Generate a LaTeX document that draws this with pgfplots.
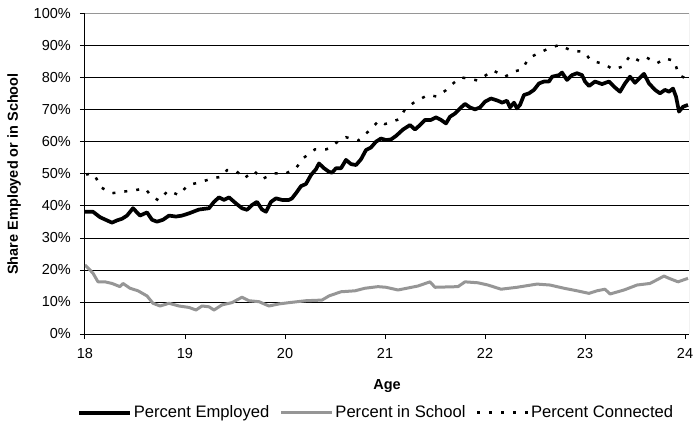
\documentclass[border=0pt]{standalone}
\usepackage{pgfplots}
\pgfplotsset{compat=1.18}
\usepackage{fontspec}
\setmainfont{Liberation Sans}
\definecolor{schoolgray}{RGB}{150,150,150}
\begin{document}
\begin{tikzpicture}
\begin{axis}[
  name=ax, at={(0,0)}, anchor=south west,
  scale only axis, width=604bp, height=320bp,
  xmin=18, xmax=24.04, ymin=0, ymax=100,
  axis lines=left, axis line style={-, black, line width=1bp},
  xtick={18,19,...,24}, ytick={0,10,...,100},
  /pgf/number format/assume math mode=true,
  yticklabel={\pgfmathprintnumber{\tick}\%},
  tick align=outside, major tick length=5bp,
  tick style={black, line width=1bp},
  tick label style={font=\fontsize{14.5bp}{16bp}\selectfont},
  yticklabel style={anchor=east, inner sep=0pt, xshift=-9bp},
  xticklabel style={anchor=north, inner sep=0pt, yshift=-9bp},
  ymajorgrids, major grid style={black, line width=1bp},
  xlabel={\textbf{Age}}, ylabel={\textbf{Share Employed or in School}},
  label style={font=\fontsize{14.5bp}{16bp}\selectfont},
  xlabel style={at={(axis description cs:0.5,-0.163)}, anchor=center},
  ylabel style={at={(axis description cs:-0.1175,0.5)}, anchor=center, rotate=0},
  legend style={draw=none, fill=none, at={(0.482,-0.246)}, anchor=center,
    legend columns=-1, font=\fontsize{16.6bp}{18bp}\selectfont,
    /tikz/every even column/.append style={column sep=9bp},
    inner sep=0pt, nodes={inner sep=1.5bp}},
  legend image code/.code={\draw[#1] (0bp,0bp) -- (51bp,0bp);},
]
\addplot[black, line width=3.7bp, line join=round] coordinates {
(18.00,38.2)(18.08,38.2)(18.15,36.5)(18.22,35.5)(18.27,34.8)(18.32,35.5)(18.37,36)(18.42,37)(18.48,39.3)(18.55,37)(18.62,38)(18.67,35.7)(18.72,35.1)(18.78,35.7)(18.84,37)(18.91,36.7)(18.97,37)(19.04,37.7)(19.14,38.9)(19.24,39.3)(19.29,41.3)(19.34,42.7)(19.39,41.9)(19.44,42.7)(19.51,40.8)(19.57,39.3)(19.62,38.8)(19.67,40.3)(19.72,41.3)(19.77,38.9)(19.81,38.2)(19.86,41.3)(19.91,42.4)(19.97,41.9)(20.04,41.9)(20.07,42.4)(20.11,44)(20.16,46.2)(20.21,46.9)(20.26,49.7)(20.31,51.5)(20.34,53.3)(20.39,51.8)(20.44,50.7)(20.47,50.4)(20.51,51.8)(20.56,51.8)(20.61,54.4)(20.66,53.1)(20.71,52.8)(20.76,54.6)(20.81,57.5)(20.86,58.3)(20.91,60.1)(20.96,61.1)(21.01,60.6)(21.06,60.8)(21.11,61.9)(21.18,63.9)(21.25,65.3)(21.30,63.9)(21.35,65.3)(21.40,66.9)(21.46,66.9)(21.51,67.7)(21.56,66.9)(21.61,65.8)(21.65,67.9)(21.70,68.9)(21.75,70.5)(21.80,71.9)(21.85,70.8)(21.90,70.2)(21.95,70.8)(22.00,72.6)(22.06,73.6)(22.13,72.9)(22.17,72.3)(22.22,72.9)(22.25,70.8)(22.29,72.3)(22.32,70.5)(22.35,71.6)(22.39,74.7)(22.44,75.2)(22.49,76.3)(22.54,78.3)(22.59,78.9)(22.64,78.9)(22.67,80.4)(22.74,80.9)(22.77,81.7)(22.82,79.4)(22.87,80.9)(22.92,81.5)(22.97,80.9)(23.00,78.9)(23.04,77.5)(23.10,78.9)(23.17,78.1)(23.24,78.9)(23.29,77.3)(23.35,75.7)(23.40,78.3)(23.45,80.4)(23.50,78.5)(23.59,81.3)(23.64,78.3)(23.70,76.3)(23.75,75.2)(23.80,76.3)(23.84,75.7)(23.88,76.7)(23.91,74.2)(23.94,69.5)(23.98,71)(24.03,71.6)
};
\addlegendentry{Percent Employed}
\addplot[schoolgray, line width=3bp, line join=round] coordinates {
(18.00,21.6)(18.08,19)(18.13,16.3)(18.20,16.3)(18.27,15.8)(18.35,14.8)(18.38,15.8)(18.45,14.3)(18.53,13.5)(18.62,11.9)(18.68,9.6)(18.75,8.75)(18.84,9.6)(18.94,8.75)(19.04,8.3)(19.11,7.5)(19.17,8.75)(19.24,8.5)(19.29,7.5)(19.37,9.1)(19.47,9.8)(19.57,11.5)(19.64,10.4)(19.74,10.1)(19.84,8.75)(19.94,9.4)(20.04,9.8)(20.21,10.4)(20.37,10.6)(20.44,11.9)(20.56,13.2)(20.70,13.5)(20.80,14.3)(20.93,14.8)(21.01,14.6)(21.13,13.75)(21.33,15)(21.45,16.3)(21.50,14.6)(21.73,14.8)(21.80,16.3)(21.93,16)(22.03,15.3)(22.16,14)(22.32,14.6)(22.52,15.6)(22.65,15.3)(22.79,14.3)(22.92,13.5)(23.04,12.7)(23.12,13.5)(23.20,14)(23.25,12.5)(23.39,13.75)(23.52,15.3)(23.65,15.8)(23.79,18.1)(23.84,17.4)(23.93,16.3)(24.03,17.4)
};
\addlegendentry{Percent in School}
\addplot[black, line width=2.5bp, dash pattern=on 3bp off 9bp] coordinates {
(18.01,49.9)(18.09,50)(18.16,45.8)(18.27,44)(18.39,44.5)(18.51,45)(18.60,45.5)(18.67,42.9)(18.74,41.7)(18.83,44.8)(18.94,43.4)(19.03,46.6)(19.14,47.3)(19.27,48.6)(19.37,49.2)(19.42,51.2)(19.51,51)(19.59,48.6)(19.69,51)(19.77,48.4)(19.89,50.2)(20.01,50.2)(20.11,51.8)(20.18,54.9)(20.30,57.7)(20.41,57.7)(20.44,58)(20.54,60.4)(20.61,61.5)(20.73,60.4)(20.85,63.75)(20.94,66.7)(21.00,65.6)(21.14,67.1)(21.20,70.2)(21.30,72.6)(21.43,74.7)(21.52,74.2)(21.61,76.2)(21.66,77.8)(21.76,80.2)(21.85,79.7)(21.93,79.2)(22.08,82.4)(22.20,80.4)(22.29,82)(22.37,82.7)(22.44,86.3)(22.52,87.5)(22.64,89.3)(22.74,90.3)(22.87,88.5)(22.99,88.2)(23.06,85.4)(23.19,84.4)(23.28,82.7)(23.37,83.5)(23.45,86.9)(23.54,85.4)(23.61,86.5)(23.72,84.6)(23.80,86.1)(23.89,85.4)(23.94,80.9)(24.00,80)
};
\addlegendentry{Percent Connected}
\draw[schoolgray, line width=1bp] (rel axis cs:0,1) -- (rel axis cs:1,1) -- (rel axis cs:1,0);
\end{axis}
\pgfresetboundingbox
\path[use as bounding box] (ax.south west) ++(-85bp,-92bp) rectangle ++(697bp,426bp);
\end{tikzpicture}
\end{document}
